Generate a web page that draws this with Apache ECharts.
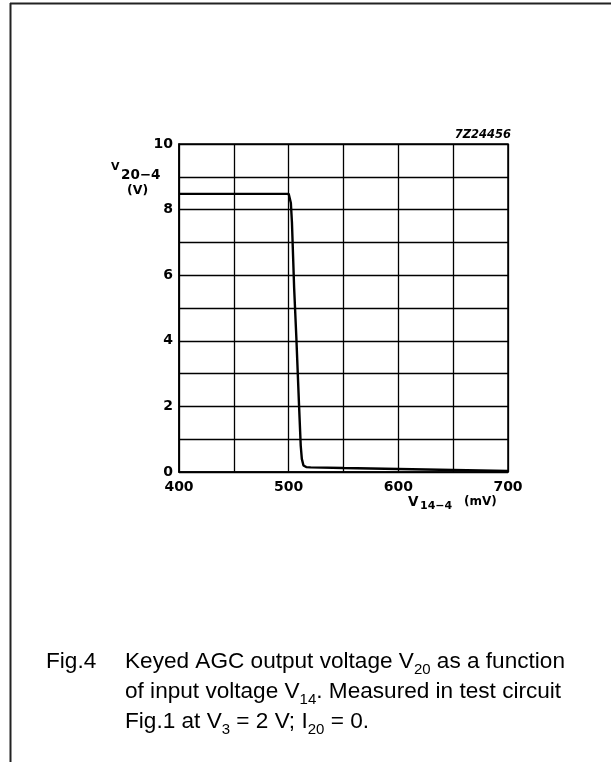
<!DOCTYPE html>
<html>
<head>
<meta charset="utf-8">
<script src="https://cdn.jsdelivr.net/npm/echarts@6/dist/echarts.min.js"></script>
<style>
html,body{margin:0;padding:0;background:#fff;}
#chart{width:611px;height:762px;}
</style>
</head>
<body>
<div id="chart"></div>
<script>
// Input voltage V14-4 (mV)
var inputMV = [400, 450, 500, 501, 502, 503, 505, 507, 509.5, 511, 512, 513.5, 516, 520, 550, 600, 650, 700];
// Output voltage V20-4 (V)
var outputV = [8.48, 8.48, 8.48, 8.44, 8.2, 7.6, 5.6, 4.1, 2.0, 0.8, 0.4, 0.2, 0.15, 0.14, 0.12, 0.09, 0.06, 0.03];
var xTickLabels = ['400', '500', '600', '700'];
var yTickLabels = ['0', '2', '4', '6', '8', '10'];

var points = inputMV.map(function (x, i) { return [x, outputV[i]]; });

var FF = 'Liberation Sans, Arial, sans-serif';
var FD = 'DejaVu Sans, Verdana, sans-serif';
var chart = echarts.init(document.getElementById('chart'), null, {renderer: 'canvas'});
var tickFont = {fontFamily: FD, fontWeight: 'bold', fontSize: 14, color: '#000'};

function txt(left, top, text, size, extra) {
  var st = Object.assign({text: text, fontFamily: FD, fontWeight: 'bold', fontSize: size, fill: '#000'}, extra || {});
  return {type: 'text', left: left, top: top, style: st};
}

chart.setOption({
  animation: false,
  backgroundColor: '#fff',
  grid: {left: 179, right: 103, top: 144, bottom: 290, show: true, borderColor: '#000', borderWidth: 1.5},
  xAxis: {
    type: 'value', min: 400, max: 700, interval: 50,
    axisLine: {show: true, lineStyle: {color: '#000', width: 1.5}},
    axisTick: {show: false},
    splitLine: {show: true, lineStyle: {color: '#000', width: 1.3}},
    axisLabel: Object.assign({margin: 8, formatter: function (v) {
      var s = String(v); return xTickLabels.indexOf(s) >= 0 ? s : '';
    }}, tickFont)
  },
  yAxis: {
    type: 'value', min: 0, max: 10, interval: 1,
    axisLine: {show: true, lineStyle: {color: '#000', width: 1.5}},
    axisTick: {show: false},
    splitLine: {show: true, lineStyle: {color: '#000', width: 1.3}},
    axisLabel: Object.assign({margin: 6, formatter: function (v) {
      var s = String(v); return yTickLabels.indexOf(s) >= 0 ? s : '';
    }}, tickFont)
  },
  series: [{
    type: 'line',
    data: points,
    showSymbol: false,
    smooth: false,
    lineStyle: {color: '#000', width: 2.4},
    z: 5
  }],
  graphic: [
    // page frame lines
    {type: 'line', shape: {x1: 10, y1: 3.5, x2: 611, y2: 3.5}, style: {stroke: '#222', lineWidth: 2}},
    {type: 'line', shape: {x1: 10.5, y1: 3, x2: 10.5, y2: 762}, style: {stroke: '#222', lineWidth: 2}},
    // drawing code
    {type: 'text', right: 100, top: 129, style: {text: '7Z24456', fontFamily: FD, fontStyle: 'italic', fontWeight: 'bold', fontSize: 11.5, fill: '#000'}},
    // y-axis title
    txt(111, 162, 'V', 11),
    txt(121, 168, '20\u22124', 13.5),
    txt(127, 184, '(V)', 12.5),
    // x-axis title
    txt(408, 495, 'V', 13.5),
    txt(420, 501, '14\u22124', 11),
    txt(464, 496, '(mV)', 12),
    // caption
    {type: 'text', left: 46, top: 647, style: {text: 'Fig.4', fontFamily: FF, fontSize: 22.6, lineHeight: 30, fill: '#000'}},
    {type: 'text', left: 125, top: 647, style: {
      text: 'Keyed AGC output voltage V{s|20} as a function\nof input voltage V{s|14}. Measured in test circuit\nFig.1 at V{s|3} = 2 V; I{s|20} = 0.',
      fontFamily: FF, fontSize: 22.6, lineHeight: 30, fill: '#000',
      rich: {
        s: {fontFamily: FF, fontSize: 15, lineHeight: 17, verticalAlign: 'bottom', fill: '#000'}
      }
    }}
  ]
});
</script>
</body>
</html>
